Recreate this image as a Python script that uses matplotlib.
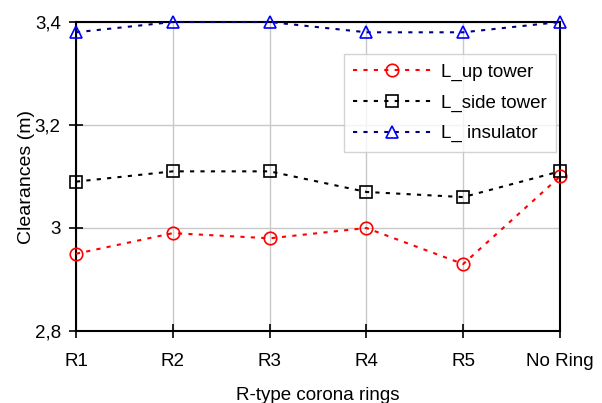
import matplotlib.pyplot as plt
from matplotlib.ticker import FuncFormatter

plt.rcParams['font.family'] = ['Liberation Sans', 'DejaVu Sans']

rings = ['R1', 'R2', 'R3', 'R4', 'R5', 'No Ring']
l_up_tower = [2.95, 2.99, 2.98, 3.00, 2.93, 3.10]
l_side_tower = [3.09, 3.11, 3.11, 3.07, 3.06, 3.11]
l_insulator = [3.38, 3.40, 3.40, 3.38, 3.38, 3.40]

x = list(range(len(rings)))
dots = (0, (2, 3))

fig = plt.figure(figsize=(6.02, 4.03), dpi=100)
ax = fig.add_axes([76 / 602, 1 - 331 / 403, 484 / 602, 309 / 403])

ax.plot(x, l_up_tower, linestyle=dots, color='red', lw=1.5, marker='o',
        markersize=9, markerfacecolor='none', markeredgecolor='red',
        markeredgewidth=1.2, label='L_up tower', clip_on=False, zorder=3)
ax.plot(x, l_side_tower, linestyle=dots, color='black', lw=1.5, marker='s',
        markersize=8, markerfacecolor='none', markeredgecolor='black',
        markeredgewidth=1.2, label='L_side tower', clip_on=False, zorder=3)
ax.plot(x, l_insulator, linestyle=dots, color='#000080', lw=1.5, marker='^',
        markersize=9, markerfacecolor='none', markeredgecolor='blue',
        markeredgewidth=1.2, label='L_ insulator', clip_on=False, zorder=3)

ax.set_xlim(0, 5)
ax.set_ylim(2.8, 3.4)
ax.set_xticks(x)
ax.set_xticklabels(rings)
ax.set_yticks([2.8, 3.0, 3.2, 3.4])
ax.yaxis.set_major_formatter(FuncFormatter(
    lambda v, p: ('%g' % round(v, 1)).replace('.', ',')))
ax.tick_params(axis='both', direction='inout', length=10, width=1.2,
               labelsize=13.5)
ax.tick_params(axis='x', pad=11)
ax.tick_params(axis='y', pad=6)
ax.grid(True, color='#c8c8c8', lw=1)
ax.set_axisbelow(True)
for s in ax.spines.values():
    s.set_linewidth(1.5)

ax.set_xlabel('R-type corona rings', fontsize=13.5, labelpad=12)
ax.set_ylabel('Clearances (m)', fontsize=14, labelpad=0)

leg = ax.legend(loc='upper right', bbox_to_anchor=(0.992, 0.896),
                fontsize=13.5, frameon=True, fancybox=False,
                edgecolor='#c8c8c8', handlelength=4.2, handletextpad=0.5,
                borderpad=0.5, labelspacing=0.72, borderaxespad=0)
leg.get_frame().set_linewidth(1)

fig.savefig('out.png', dpi=100)
